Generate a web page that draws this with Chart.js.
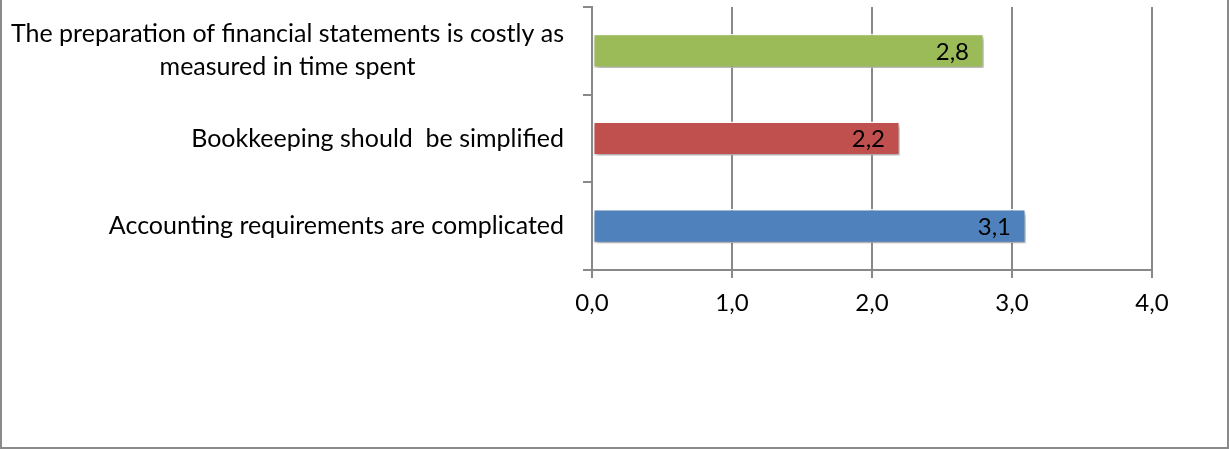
<!DOCTYPE html>
<html>
<head>
<meta charset="utf-8">
<script src="https://cdn.jsdelivr.net/npm/chart.js@4"></script>
<style>
  body { margin: 0; background: #fff; }
  #wrap { width: 1229px; height: 450px; position: relative; }
</style>
</head>
<body>
<div id="wrap"><canvas id="chart" width="1229" height="450"></canvas></div>
<script>
// survey statements, top to bottom
var statements = [
  ['The preparation of financial statements is costly as', 'measured in time spent'],
  'Bookkeeping should  be simplified',
  'Accounting requirements are complicated'
];
var scores = [2.8, 2.2, 3.1];
var barColors = ['#9BBB59', '#C0504D', '#4F81BD'];
var xTicks = [0, 1, 2, 3, 4];

var FONT = 'Lato, Carlito, Calibri, sans-serif';
var AXIS = '#898989';

function fmt(v) {
  return v.toFixed(1).replace('.', ',');
}

// soft drop shadow under the bars
var barShadow = {
  id: 'barShadow',
  beforeDatasetsDraw: function(chart) {
    var ctx = chart.ctx;
    ctx.save();
    ctx.shadowColor = 'rgba(0,0,0,0.35)';
    ctx.shadowBlur = 4;
    ctx.shadowOffsetX = 1;
    ctx.shadowOffsetY = 3;
  },
  afterDatasetsDraw: function(chart) {
    chart.ctx.restore();
  }
};

// value text at the inner end of each bar
var valueLabels = {
  id: 'valueLabels',
  afterDatasetsDraw: function(chart) {
    var ctx = chart.ctx;
    var meta = chart.getDatasetMeta(0);
    ctx.save();
    ctx.font = '24px ' + FONT;
    ctx.fillStyle = '#000';
    ctx.textAlign = 'right';
    ctx.textBaseline = 'middle';
    meta.data.forEach(function(bar, i) {
      ctx.fillText(fmt(scores[i]), bar.x - 15, bar.y + 1);
    });
    ctx.restore();
  }
};

// category text left of the axis; wrapped lines are centred on each other
var categoryLabels = {
  id: 'categoryLabels',
  afterDraw: function(chart) {
    var ctx = chart.ctx;
    var yScale = chart.scales.y;
    var right = chart.chartArea.left - 28;
    var lineH = 33;
    ctx.save();
    ctx.font = '25px ' + FONT;
    ctx.fillStyle = '#000';
    ctx.textBaseline = 'middle';
    statements.forEach(function(label, i) {
      var y = yScale.getPixelForValue(i);
      var lines = Array.isArray(label) ? label : [label];
      var widest = Math.max.apply(null, lines.map(function(l) { return ctx.measureText(l).width; }));
      var cx = right - widest / 2;
      var y0 = y - (lines.length - 1) * lineH / 2;
      ctx.textAlign = lines.length > 1 ? 'center' : 'right';
      lines.forEach(function(l, k) {
        ctx.fillText(l, lines.length > 1 ? cx : right, y0 + k * lineH);
      });
    });
    ctx.restore();
  }
};

// outer frame (left, right, bottom)
var frame = {
  id: 'frame',
  afterDraw: function(chart) {
    var ctx = chart.ctx;
    ctx.save();
    ctx.strokeStyle = '#8a8a8a';
    ctx.lineWidth = 2;
    ctx.beginPath();
    ctx.moveTo(1, 0);
    ctx.lineTo(1, 448);
    ctx.lineTo(1228, 448);
    ctx.lineTo(1228, 0);
    ctx.stroke();
    ctx.restore();
  }
};

new Chart(document.getElementById('chart'), {
  type: 'bar',
  data: {
    labels: statements,
    datasets: [{
      data: scores,
      backgroundColor: barColors,
      borderColor: 'rgba(255,255,255,0.95)',
      borderWidth: 1.5,
      borderSkipped: false,
      barPercentage: 0.39,
      categoryPercentage: 1
    }]
  },
  options: {
    indexAxis: 'y',
    responsive: false,
    animation: false,
    layout: { padding: { left: 0, top: 7, right: 77, bottom: 0 } },
    plugins: {
      legend: { display: false },
      tooltip: { enabled: false }
    },
    scales: {
      x: {
        min: 0,
        max: 4,
        afterBuildTicks: function(scale) {
          scale.ticks = xTicks.map(function(v) { return { value: v }; });
        },
        afterFit: function(scale) { scale.height = 180; },
        grid: {
          color: AXIS,
          lineWidth: 2,
          tickLength: 8,
          drawOnChartArea: true
        },
        border: { color: AXIS, width: 2 },
        ticks: {
          color: '#000',
          font: { family: FONT, size: 24 },
          padding: 11,
          callback: function(v) { return fmt(v); }
        }
      },
      y: {
        afterFit: function(scale) { scale.width = 592; },
        grid: {
          offset: true,
          color: AXIS,
          lineWidth: 2,
          tickLength: 9,
          drawOnChartArea: false
        },
        border: { color: AXIS, width: 2 },
        ticks: { display: false }
      }
    }
  },
  plugins: [barShadow, valueLabels, categoryLabels, frame]
});
</script>
</body>
</html>
